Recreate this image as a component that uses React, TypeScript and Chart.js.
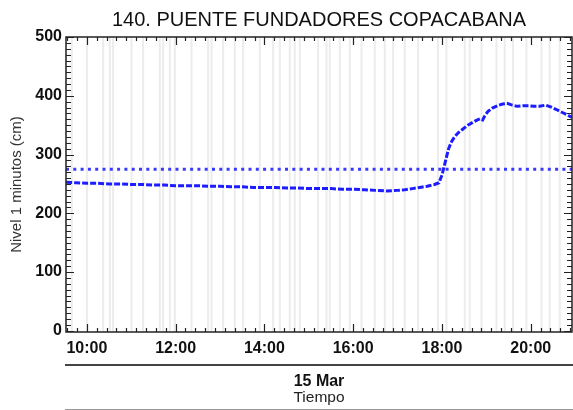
import React, { useEffect, useRef } from "react";
import { Chart, registerables } from "chart.js";

Chart.register(...registerables);

const TITLE = "140. PUENTE FUNDADORES COPACABANA";
const Y_TITLE = "Nivel 1 minutos (cm)";
const X_TITLE = "Tiempo";
const DATE_LABEL = "15 Mar";

const times = [
  "09:32", "09:45", "10:00", "10:15", "10:30", "10:45", "11:00", "11:15", "11:30", "11:45",
  "12:00", "12:15", "12:30", "12:45", "13:00", "13:15", "13:30", "13:45", "14:00", "14:15",
  "14:30", "14:45", "15:00", "15:15", "15:30", "15:45", "16:00", "16:15", "16:30", "16:45",
  "17:00", "17:10", "17:20", "17:30", "17:40", "17:50", "17:56", "18:00", "18:03", "18:06",
  "18:09", "18:13", "18:17", "18:22", "18:28", "18:35", "18:42", "18:48", "18:52", "18:55",
  "18:58", "19:02", "19:08", "19:15", "19:22", "19:28", "19:35", "19:42", "19:50", "19:58",
  "20:05", "20:12", "20:20", "20:27", "20:34", "20:42", "20:50", "20:56",
];
const levels = [
  253, 252, 251, 251, 250, 250, 249, 249, 248, 248,
  247, 247, 247, 246, 246, 245, 245, 244, 244, 244,
  243, 243, 242, 242, 242, 241, 241, 240, 239, 238,
  239, 240, 242, 244, 246, 249, 252, 265, 280, 295,
  310, 322, 330, 337, 343, 350, 355, 359, 361, 359,
  366, 373, 379, 383, 386, 387, 384, 382, 383, 383,
  382, 382, 384, 381, 377, 372, 367, 363,
];
const thresholdLevel = 275;
const xHourTicks = [10, 12, 14, 16, 18, 20];
const yTicks = [0, 100, 200, 300, 400, 500];
const grayLineHours = [
  9.66, 10.0, 10.367, 10.518, 10.592, 11.007, 11.268, 11.644, 11.718, 11.869, 11.982,
  12.358, 12.732, 12.809, 13.07, 13.333, 13.52, 13.896, 14.196, 14.347, 14.572,
  14.685, 14.797, 15.209, 15.399, 15.473, 15.698, 15.923, 16.187, 16.486, 16.712,
  16.899, 17.162, 17.462, 17.912, 18.101, 18.514, 18.626, 18.89, 19.228, 19.414,
  19.601, 19.903, 20.241, 20.428, 20.653,
];
const X_MIN = 9.53;
const X_MAX = 20.93;
const Y_MIN = -2;
const Y_MAX = 500;

const FONT = "'Liberation Sans', Arial, Helvetica, sans-serif";

function toHours(t: string): number {
  const [h, m] = t.split(":").map(Number);
  return h + m / 60;
}

const framePlugin = {
  id: "framePlugin",
  beforeDatasetsDraw(chart: any) {
    const { ctx, chartArea, scales } = chart;
    const xs = scales.x;
    ctx.save();
    ctx.fillStyle = "#ececec";
    for (const h of grayLineHours) {
      const x = xs.getPixelForValue(h);
      ctx.fillRect(x - 1, chartArea.top, 2, chartArea.bottom - chartArea.top);
    }
    ctx.restore();
  },
  afterDatasetsDraw(chart: any) {
    const { ctx, chartArea, scales } = chart;
    const { left, right, top, bottom } = chartArea;
    const xs = scales.x;
    const ys = scales.y;
    ctx.save();
    ctx.strokeStyle = "#222";
    ctx.lineWidth = 1.5;
    ctx.strokeRect(left, top, right - left, bottom - top);

    ctx.lineWidth = 1.2;
    ctx.beginPath();
    const xStep = (xHourTicks[1] - xHourTicks[0]) / 9;
    let start = xHourTicks[0];
    while (start - xStep >= X_MIN) start -= xStep;
    for (let v = start; v <= X_MAX + 1e-9; v += xStep) {
      const x = Math.round(xs.getPixelForValue(v)) + 0.5;
      const isMajor = xHourTicks.some((t) => Math.abs(t - v) < 1e-6);
      const len = isMajor ? 8 : 4;
      ctx.moveTo(x, bottom);
      ctx.lineTo(x, bottom - len);
      ctx.moveTo(x, top);
      ctx.lineTo(x, top + len);
    }
    const yStep = (yTicks[1] - yTicks[0]) / 10;
    for (let v = yTicks[0]; v <= Y_MAX + 1e-9; v += yStep) {
      const y = Math.round(ys.getPixelForValue(v)) + 0.5;
      const isMajor = yTicks.some((t) => Math.abs(t - v) < 1e-6);
      const len = isMajor ? 8 : 5;
      ctx.moveTo(left, y);
      ctx.lineTo(left + len, y);
      ctx.moveTo(right, y);
      ctx.lineTo(right - len, y);
    }
    ctx.stroke();
    ctx.restore();
  },
  afterDraw(chart: any) {
    const { ctx, chartArea } = chart;
    const { left, right, top, bottom } = chartArea;
    const cx = (left + right) / 2;
    ctx.save();
    ctx.strokeStyle = "#444";
    ctx.lineWidth = 2;
    ctx.beginPath();
    ctx.moveTo(left - 1, 365);
    ctx.lineTo(573, 365);
    ctx.stroke();
    ctx.strokeStyle = "#999";
    ctx.lineWidth = 1;
    ctx.beginPath();
    ctx.moveTo(left - 1, 409.5);
    ctx.lineTo(573, 409.5);
    ctx.stroke();

    ctx.fillStyle = "#111";
    ctx.textAlign = "center";
    ctx.textBaseline = "middle";
    ctx.font = `bold 16px ${FONT}`;
    ctx.fillText(DATE_LABEL, cx, 382);
    ctx.fillStyle = "#222";
    ctx.font = `15.5px ${FONT}`;
    ctx.fillText(X_TITLE, cx, 398);

    ctx.translate(17, (top + bottom) / 2);
    ctx.rotate(-Math.PI / 2);
    ctx.fillStyle = "#333";
    ctx.font = `15px ${FONT}`;
    ctx.fillText(Y_TITLE, 0, 0);
    ctx.restore();
  },
};

export default function App() {
  const canvasRef = useRef<HTMLCanvasElement | null>(null);

  useEffect(() => {
    const canvas = canvasRef.current;
    if (!canvas) return;
    const chart = new Chart(canvas, {
      type: "line",
      data: {
        datasets: [
          {
            label: "Nivel",
            data: times.map((t, i) => ({ x: toHours(t), y: levels[i] })),
            borderColor: "#1c1cff",
            borderWidth: 3,
            borderDash: [6, 2],
            pointRadius: 0,
            tension: 0,
            fill: false,
          },
          {
            label: "Umbral",
            data: [
              { x: X_MIN, y: thresholdLevel },
              { x: X_MAX, y: thresholdLevel },
            ],
            borderColor: "#3a3aff",
            borderWidth: 3,
            borderDash: [3, 4.3],
            pointRadius: 0,
            fill: false,
          },
        ],
      },
      options: {
        responsive: false,
        animation: false,
        devicePixelRatio: 1,
        layout: { padding: { left: 0, right: 1, top: 0, bottom: 0 } },
        plugins: {
          legend: { display: false },
          tooltip: { enabled: false },
          title: {
            display: true,
            fullSize: false,
            text: TITLE,
            color: "#111",
            font: { family: FONT, size: 20, weight: "normal", lineHeight: 1.2 },
            padding: { top: 8, bottom: 5 },
          },
        },
        scales: {
          x: {
            type: "linear",
            min: X_MIN,
            max: X_MAX,
            afterBuildTicks: (s: any) => {
              s.ticks = xHourTicks.map((v) => ({ value: v }));
            },
            afterFit: (s: any) => {
              s.height = 78;
            },
            ticks: {
              callback: (v: any) => `${v}:00`,
              color: "#111",
              font: { family: FONT, size: 16, weight: "bold" },
              padding: 7,
              maxRotation: 0,
              autoSkip: false,
            },
            grid: { display: false, drawTicks: false },
            border: { display: false },
          },
          y: {
            type: "linear",
            min: Y_MIN,
            max: Y_MAX,
            afterBuildTicks: (s: any) => {
              s.ticks = yTicks.map((v) => ({ value: v }));
            },
            afterFit: (s: any) => {
              s.width = 66;
            },
            ticks: {
              color: "#111",
              font: { family: FONT, size: 16, weight: "bold" },
              padding: 4,
              autoSkip: false,
            },
            grid: { display: false, drawTicks: false },
            border: { display: false },
          },
        },
      },
      plugins: [framePlugin],
    });
    return () => chart.destroy();
  }, []);

  return (
    <div style={{ position: "fixed", left: 0, top: 0, width: 573, height: 410, background: "#fff" }}>
      <canvas ref={canvasRef} width={573} height={410} style={{ display: "block" }} />
    </div>
  );
}
